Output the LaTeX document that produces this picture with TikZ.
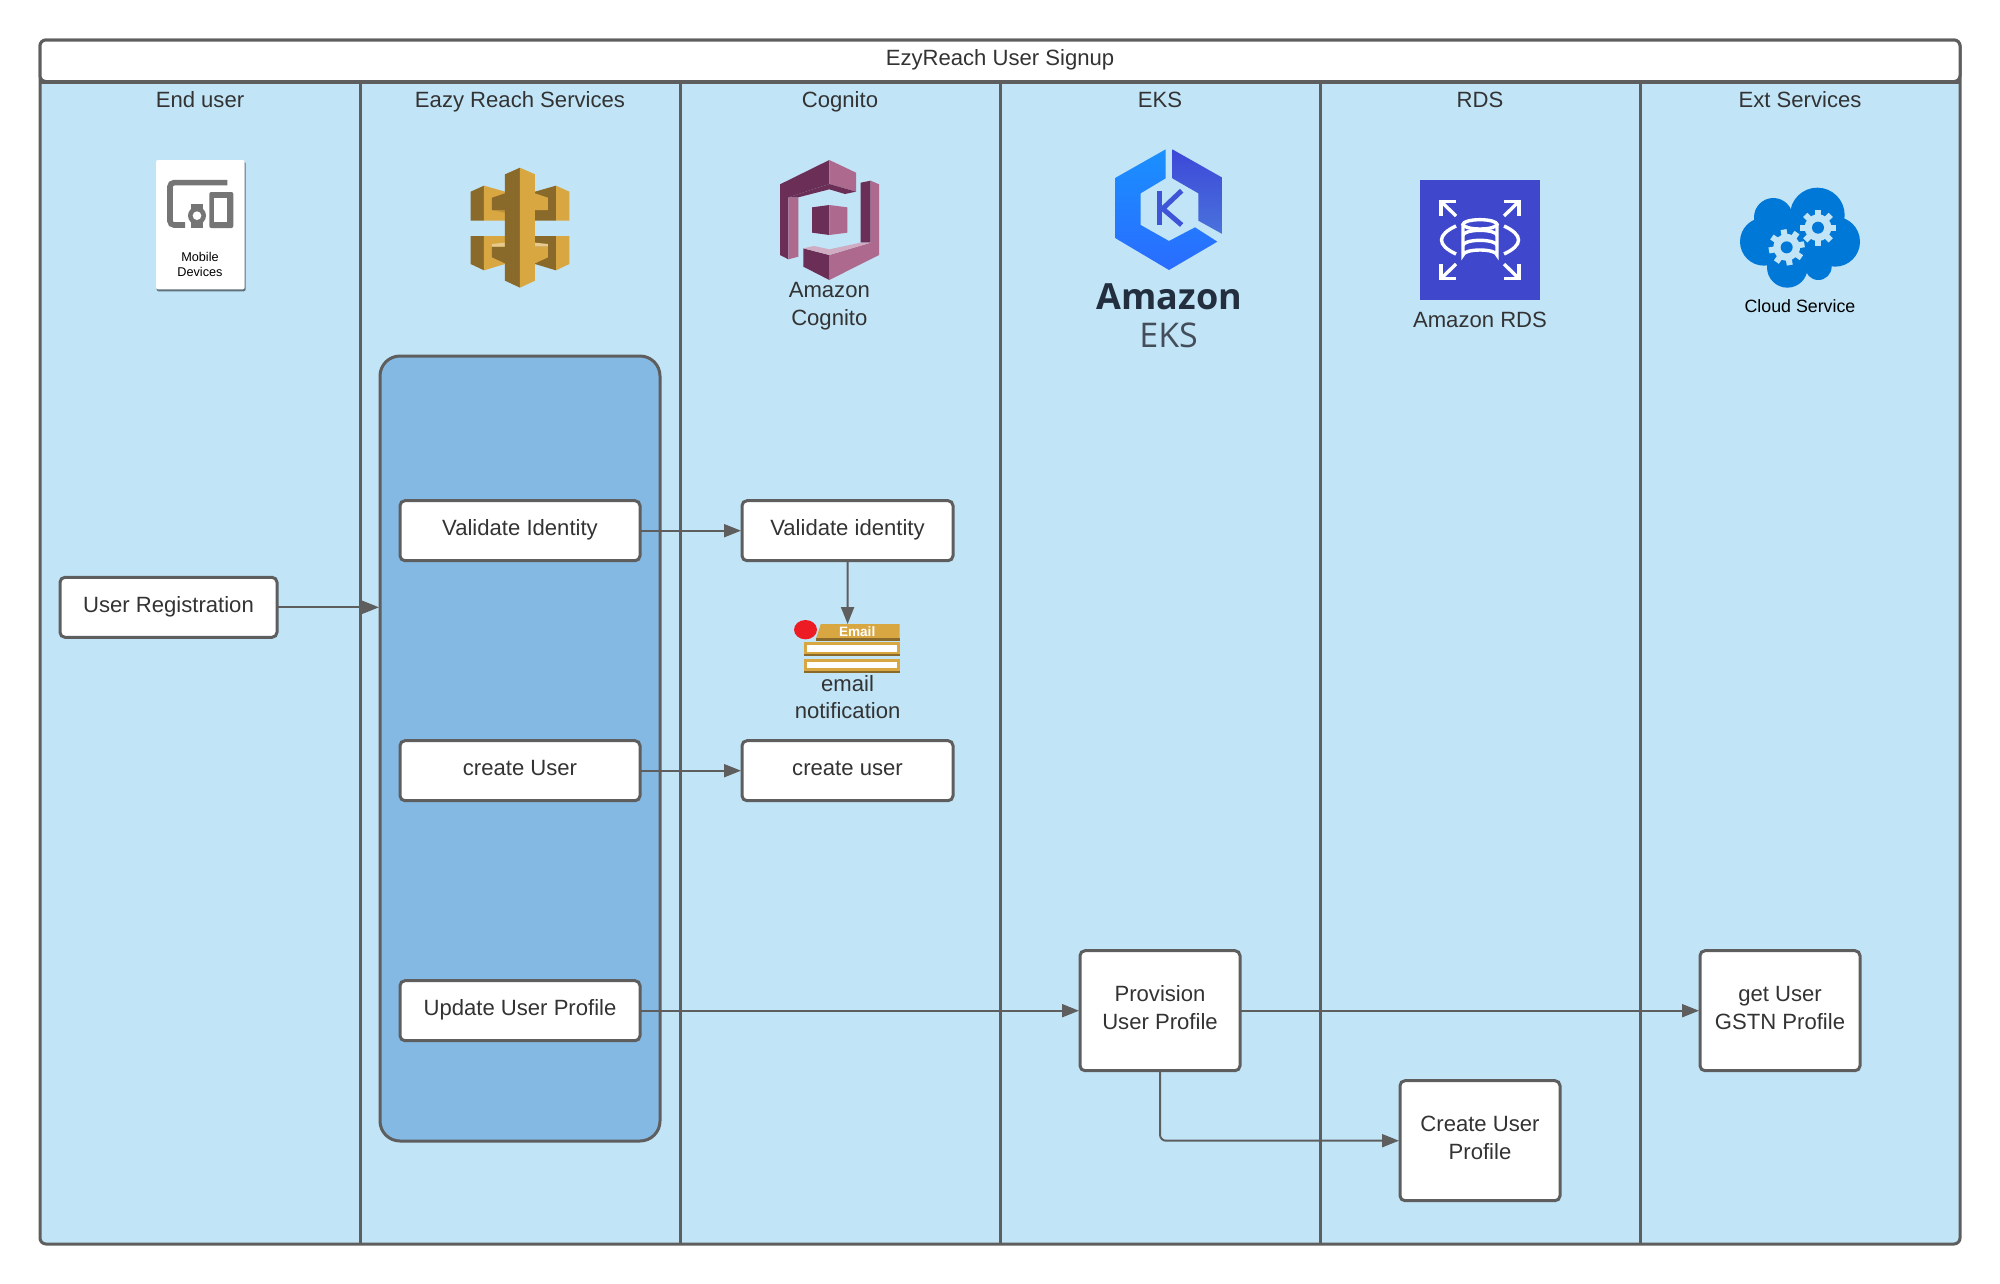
\documentclass[tikz,border=0pt]{standalone}
\usepackage{fontspec}
\setmainfont{Liberation Sans}
\newfontfamily\ekfont{Open Sans}
\usetikzlibrary{arrows.meta,calc}
\definecolor{lanefill}{HTML}{C1E4F7}
\definecolor{innerfill}{HTML}{84B9E3}
\definecolor{linec}{HTML}{5E5E5E}
\definecolor{textc}{HTML}{333333}
\definecolor{apidark}{HTML}{8A6A2B}
\definecolor{apilight}{HTML}{D8A741}
\definecolor{cogdark}{HTML}{6B2F57}
\definecolor{coglight}{HTML}{AD6A8E}
\definecolor{cogpale}{HTML}{D0ACC2}
\definecolor{rdsblue}{HTML}{3F48CC}
\definecolor{cloudblue}{HTML}{0078D7}
\definecolor{gearc}{HTML}{C1E4F7}
\definecolor{grayic}{HTML}{757575}
\definecolor{ekdark}{HTML}{232F3E}
\definecolor{ektop}{HTML}{1A90FF}
\definecolor{ekbot}{HTML}{2A6CFF}
\definecolor{ekrtop}{HTML}{3C48D8}
\definecolor{ekrbot}{HTML}{4A72DC}
\definecolor{ekk}{HTML}{3F55D8}
\definecolor{redmark}{HTML}{ED1C24}
\tikzset{
  x=1pt,y=-1pt,
  lanebox/.style={draw=linec,line width=3pt,fill=lanefill},
  txt/.style={font=\fontsize{22.1}{27.5}\selectfont,text=textc,align=center,inner sep=0pt},
  flowbox/.style={txt,draw=linec,fill=white,line width=3pt,rounded corners=5pt,minimum height=60pt,outer sep=1pt},
  oneline/.style={flowbox,text height=16pt,text depth=6pt},
  twoline/.style={flowbox,text depth=6pt,minimum width=160pt,minimum height=120pt},
  flowarrow/.style={draw=linec,line width=2pt,-{Triangle[length=17pt,width=13pt]}},
  icon/.style={x=0.33333pt,y=-0.33333pt},
}
\begin{document}
\begin{tikzpicture}
\useasboundingbox (0,0) rectangle (2000,1283);
\fill[white] (0,0) rectangle (2000,1283);
% swimlanes
\path[lanebox,rounded corners=6pt] (40,40) rectangle (1960,1244);
\draw[draw=linec,line width=3pt] (40,82) -- (1960,82);
\foreach \lx in {360,680,1000,1320,1640}{\draw[draw=linec,line width=3pt] (\lx,82) -- (\lx,1244);}
\path[fill=white,draw=linec,line width=3pt,rounded corners=6pt] (40,81.5) -- (40,40) -- (1960,40) -- (1960,81.5) -- cycle;
\node[txt,anchor=base] (title) at (1000,65) {EzyReach User Signup};
\node[txt,anchor=base] (l1) at (200,107) {End user};
\node[txt,anchor=base] (l2) at (520,107) {Eazy Reach Services};
\node[txt,anchor=base] (l3) at (840,107) {Cognito};
\node[txt,anchor=base] (l4) at (1160,107) {EKS};
\node[txt,anchor=base] (l5) at (1480,107) {RDS};
\node[txt,anchor=base] (l6) at (1800,107) {Ext Services};
% inner container
\node[draw=linec,fill=innerfill,line width=3pt,rounded corners=20pt,minimum width=280pt,minimum height=785pt,outer sep=1pt,inner sep=0pt] (inner) at (520,748.5) {};
% boxes
\node[oneline,minimum width=217pt] (reg) at (168.5,607.3) {User Registration};
\node[oneline,minimum width=240pt] (val) at (520,530.7) {Validate Identity};
\node[oneline,minimum width=240pt] (cre) at (520,770.7) {create User};
\node[oneline,minimum width=240pt] (upd) at (520,1010.7) {Update User Profile};
\node[oneline,minimum width=211pt] (cval) at (847.5,530.7) {Validate identity};
\node[oneline,minimum width=211pt] (ccre) at (847.5,770.7) {create user};
\node[twoline] (prov) at (1160,1010.7) {Provision\\User Profile};
\node[twoline] (cprof) at (1480,1140.7) {Create User\\Profile};
\node[twoline] (gstn) at (1780,1010.7) {get User\\GSTN Profile};
% mobile devices icon (100,130)
\begin{scope}[shift={(100,130)},icon]
  \fill[fill=black!50!lanefill,rounded corners=2pt] (170,95) rectangle (437,484);
  \fill[white,rounded corners=2pt] (168,90) rectangle (434,478);
  \draw[grayic,line width=5.6pt,rounded corners=4pt] (382,158) -- (210,158) -- (210,285) -- (255,285);
  \fill[grayic,rounded corners=2pt] (328,186) rectangle (400,294);
  \fill[white] (342,203) rectangle (382,276);
  \fill[grayic] (273,222) rectangle (309,294);
  \fill[grayic] (291,257) circle[radius=27];
  \fill[white] (291,257) circle[radius=13];
  \node[font=\fontsize{12.7}{15.5}\selectfont,text=black,align=center,inner sep=0pt] (mobtxt) at (300,403) {Mobile\\Devices};
\end{scope}
% API gateway icon
\begin{scope}[shift={(100,130)},icon]
  \fill[apidark] (1112,185) -- (1152,167) -- (1152,272) -- (1112,272) -- cycle;
  \fill[apilight] (1152,167) -- (1215,185) -- (1215,272) -- (1152,272) -- cycle;
  \fill[apidark] (1176,203) -- (1215,190) -- (1215,240) -- (1176,240) -- cycle;
  \fill[apilight!60!apidark] (1176,240) -- (1215,240) -- (1215,248) -- cycle;
  \fill[apilight] (1408,185) -- (1368,167) -- (1368,272) -- (1408,272) -- cycle;
  \fill[apidark] (1368,167) -- (1305,185) -- (1305,272) -- (1368,272) -- cycle;
  \fill[apilight] (1344,203) -- (1305,190) -- (1305,240) -- (1344,240) -- cycle;
  \fill[apidark] (1112,318) -- (1152,318) -- (1152,421) -- (1112,402) -- cycle;
  \fill[apilight] (1152,318) -- (1215,318) -- (1215,402) -- (1152,421) -- cycle;
  \fill[apidark] (1176,350) -- (1215,350) -- (1215,400) -- (1176,382) -- cycle;
  \fill[apilight!60!white] (1176,342) -- (1215,338) -- (1215,350) -- (1176,350) -- cycle;
  \fill[apilight] (1408,318) -- (1368,318) -- (1368,421) -- (1408,402) -- cycle;
  \fill[apidark] (1368,318) -- (1305,318) -- (1305,402) -- (1368,421) -- cycle;
  \fill[apilight] (1344,350) -- (1305,350) -- (1305,400) -- (1344,382) -- cycle;
  \fill[apilight!60!white] (1344,342) -- (1305,338) -- (1305,350) -- (1344,350) -- cycle;
  \fill[apidark] (1215,133) -- (1260,113) -- (1260,473) -- (1215,452) -- cycle;
  \fill[apilight] (1260,113) -- (1305,133) -- (1305,452) -- (1260,473) -- cycle;
\end{scope}
% Cognito icon
\begin{scope}[shift={(740,130)},icon]
  \fill[cogdark] (120,163) -- (268,90) -- (268,162) -- (145,202) -- (145,388) -- (120,375) -- cycle;
  \fill[coglight] (145,202) -- (175,202) -- (175,380) -- (145,388) -- cycle;
  \fill[coglight] (268,90) -- (348,128) -- (348,185) -- (268,162) -- cycle;
  \fill[cogdark] (145,202) -- (268,162) -- (348,185) -- (315,192) -- (268,178) -- (175,202) -- cycle;
  \fill[cogdark] (362,158) -- (392,152) -- (392,338) -- (362,338) -- cycle;
  \fill[coglight] (392,152) -- (417,163) -- (417,375) -- (268,450) -- (268,375) -- (392,338) -- cycle;
  \fill[cogdark] (190,355) -- (268,375) -- (268,450) -- (190,410) -- cycle;
  \fill[cogpale] (190,355) -- (222,348) -- (268,358) -- (362,338) -- (392,338) -- (268,375) -- cycle;
  \fill[cogdark] (216,232) -- (268,225) -- (268,315) -- (216,308) -- cycle;
  \fill[coglight] (268,225) -- (322,232) -- (322,308) -- (268,315) -- cycle;
  \node[txt] (cogtxt) at (268,528) {Amazon\\Cognito};
\end{scope}
% EKS icon
\begin{scope}[shift={(740,130)},icon]
  \shade[top color=ektop,bottom color=ekbot] (1277,58) -- (1127,143) -- (1127,325) -- (1287,420) -- (1432,335) -- (1365,292) -- (1287,333) -- (1202,285) -- (1202,190) -- (1277,145) -- cycle;
  \shade[top color=ekrtop,bottom color=ekrbot] (1297,58) -- (1447,143) -- (1447,312) -- (1375,272) -- (1375,190) -- (1297,145) -- cycle;
  \draw[ekk,line width=5pt] (1258,182) -- (1258,285);
  \draw[ekk,line width=5pt] (1325,182) -- (1268,236) -- (1325,285);
  \node[font=\ekfont\bfseries\fontsize{36}{40}\selectfont,text=ekdark,inner sep=0pt] (ekamz) at (1288,500) {Amazon};
  \node[font=\ekfont\fontsize{34}{38}\selectfont,text=ekdark!85,inner sep=0pt] (ekeks) at (1286,617) {EKS};
\end{scope}
% RDS icon
\begin{scope}[shift={(1380,160)},icon]
  \fill[rdsblue] (120,60) rectangle (480,420);
  \begin{scope}[white,line width=3.4pt]
    \draw (183,168) -- (183,124) -- (228,124);
    \draw (185,126) -- (228,168);
    \draw (417,168) -- (417,124) -- (372,124);
    \draw (415,126) -- (372,168);
    \draw (183,312) -- (183,356) -- (228,356);
    \draw (185,354) -- (228,312);
    \draw (417,312) -- (417,356) -- (372,356);
    \draw (415,354) -- (372,312);
    \draw (228,198) .. controls (170,225) and (170,255) .. (228,282);
    \draw (372,198) .. controls (430,225) and (430,255) .. (372,282);
    \draw (300,193) ellipse[x radius=51,y radius=14];
    \draw (249,193) -- (249,285) arc[start angle=180,end angle=360,x radius=51,y radius=15] -- (351,193);
    \draw (249,226) arc[start angle=180,end angle=360,x radius=51,y radius=15];
    \draw (249,256) arc[start angle=180,end angle=360,x radius=51,y radius=15];
  \end{scope}
  \node[txt] (rdstxt) at (300,481) {Amazon RDS};
\end{scope}
% cloud service icon
\begin{scope}[shift={(1380,160)},icon]
  \fill[cloudblue] (1180,172) circle[radius=58];
  \fill[cloudblue] (1312,165) circle[radius=82];
  \fill[cloudblue] (1152,245) circle[radius=72];
  \fill[cloudblue] (1365,245) circle[radius=75];
  \fill[cloudblue] (1222,322) circle[radius=61];
  \fill[cloudblue] (1315,320) circle[radius=40];
  \fill[cloudblue] (1160,190) rectangle (1360,310);
  \foreach \gx/\gy/\ga in {1220/262/10,1314/203/0}{
    \foreach \ang in {0,45,...,315}{
      \fill[gearc,rotate around={\ang+\ga:(\gx,\gy)}] (\gx-9,\gy-54) rectangle (\gx+9,\gy-30);
    }
    \fill[gearc] (\gx,\gy) circle[radius=40];
    \fill[cloudblue] (\gx,\gy) circle[radius=18];
  }
  \node[font=\fontsize{17.8}{20}\selectfont,text=black,inner sep=0pt] (cloudtxt) at (1260,438) {Cloud Service};
\end{scope}
% email icon
\begin{scope}[shift={(380,590)},x=0.38265pt,y=-0.33333pt]
  \fill[apilight] (1152,102) -- (1358,102) -- (1358,144) -- (1140,144) -- cycle;
  \fill[apidark] (1140,144) rectangle (1358,152);
  \node[font=\bfseries\fontsize{13.6}{16}\selectfont,text=white,inner sep=0pt] (emailtxt) at (1247,124) {Email};
  \foreach \ry in {157,207}{
    \fill[apilight] (1108,\ry) rectangle (1358,\ry+35);
    \fill[apidark] (1108,\ry+35) rectangle (1358,\ry+42);
    \fill[white] (1116,\ry+8) rectangle (1350,\ry+28);
  }
  \fill[redmark] (1112,119) ellipse[x radius=30,y radius=29];
  \coordinate (emailtop) at (1222,102);
  \node[txt] (emailnote) at (1222,321) {email\\notification};
\end{scope}
% connectors
\draw[flowarrow] (reg.east) -- (reg.east -| inner.west);
\draw[flowarrow] (val.east) -- (cval.west);
\draw[flowarrow] (cre.east) -- (ccre.west);
\draw[flowarrow] (upd.east) -- (prov.west);
\draw[flowarrow] (prov.east) -- (gstn.west);
\draw[flowarrow] (cval.south) -- (emailtop);
\draw[flowarrow,rounded corners=6pt] (prov.south) |- (cprof.west);
\end{tikzpicture}
\end{document}
